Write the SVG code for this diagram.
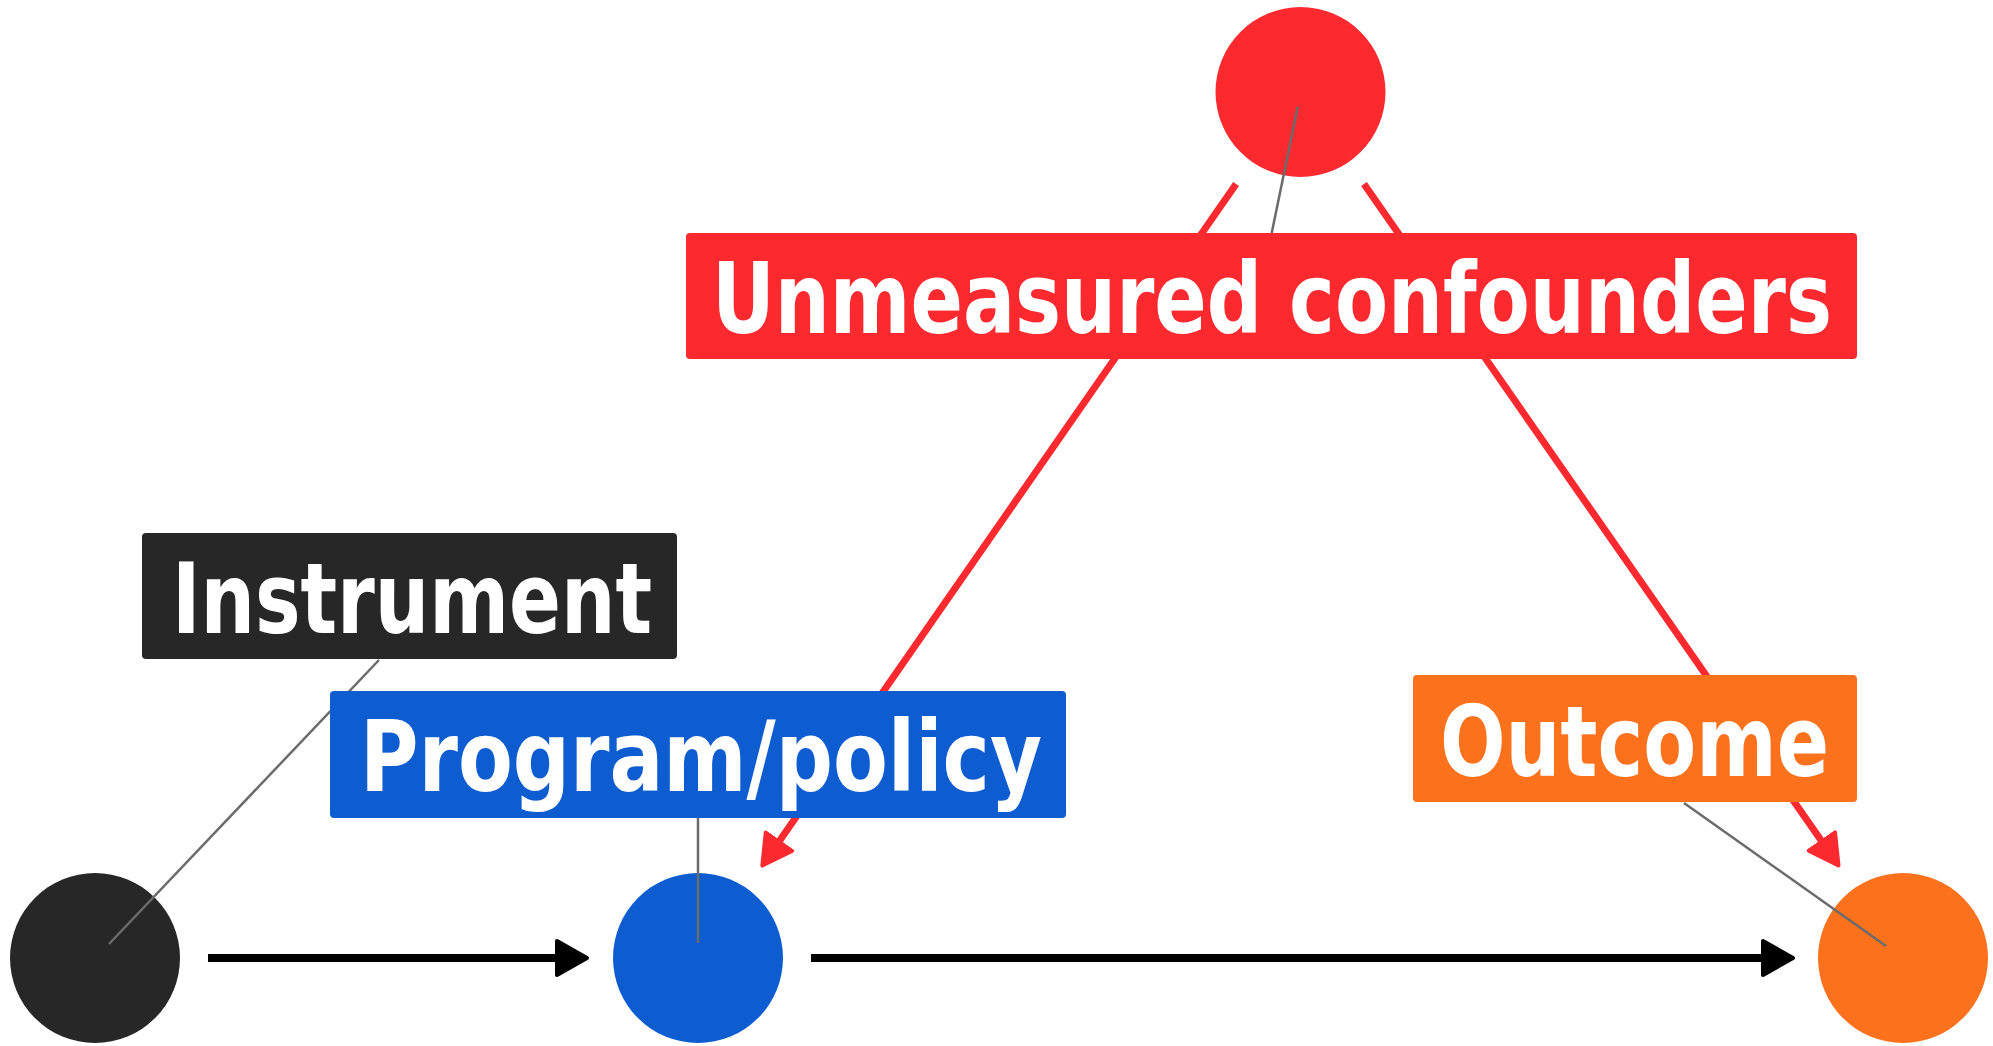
<svg xmlns="http://www.w3.org/2000/svg" width="1993" height="1046" viewBox="0 0 1993 1046">
  <style>
    .bg { fill: #ffffff; }
    .edge-black { stroke: #000000; stroke-width: 8; fill: none; }
    .edge-red { stroke: #fc2a2f; stroke-width: 7; fill: none; }
    .leader { stroke: #6b6b6b; stroke-width: 2.5; fill: none; }
    .label { font-family: "DejaVu Sans Condensed", "Open Sans", "Liberation Sans", sans-serif; font-weight: 700; font-size: 98px; fill: #ffffff; }
    .c-black { fill: #272727; }
    .c-blue { fill: #0d5dd1; }
    .c-orange { fill: #fc711c; }
    .c-red { fill: #fc2a2f; }
  </style>
  <defs>
    <marker id="arrow-black" markerUnits="userSpaceOnUse" markerWidth="40" markerHeight="44" refX="2" refY="20" orient="auto" viewBox="0 0 40 44">
      <path d="M2,3 L32,20 L2,37 Z" fill="#000000" stroke="#000000" stroke-width="4" stroke-linejoin="round"/>
    </marker>
    <marker id="arrow-red" markerUnits="userSpaceOnUse" markerWidth="40" markerHeight="44" refX="2" refY="20" orient="auto" viewBox="0 0 40 44">
      <path d="M2,4 L31,20 L2,36 Z" fill="#fc2a2f" stroke="#fc2a2f" stroke-width="4" stroke-linejoin="round"/>
    </marker>
  </defs>
  <rect class="bg" x="0" y="0" width="1993" height="1046"/>

  <g id="connectors">
    <line class="edge-black" x1="208" y1="958" x2="557" y2="958" marker-end="url(#arrow-black)"/>
    <line class="edge-black" x1="811" y1="958" x2="1763" y2="958" marker-end="url(#arrow-black)"/>
    <line class="edge-red" x1="1236.1" y1="184" x2="778.9" y2="841.7" marker-end="url(#arrow-red)"/>
    <line class="edge-red" x1="1364" y1="184" x2="1821.9" y2="841.6" marker-end="url(#arrow-red)"/>
  </g>

  <g id="node-instrument">
    <circle class="c-black" cx="95" cy="958" r="85"/>
    <line class="leader" x1="379" y1="660" x2="109" y2="944"/>
    <rect class="c-black" x="142" y="533" width="535" height="126" rx="4"/>
    <text class="label" x="172" y="633" textLength="480" lengthAdjust="spacingAndGlyphs">Instrument</text>
  </g>

  <g id="node-program">
    <circle class="c-blue" cx="698" cy="958" r="85"/>
    <line class="leader" x1="698" y1="818" x2="698" y2="943"/>
    <rect class="c-blue" x="330" y="691" width="736" height="127" rx="4"/>
    <text class="label" x="360" y="791" textLength="682" lengthAdjust="spacingAndGlyphs">Program/policy</text>
  </g>

  <g id="node-outcome">
    <circle class="c-orange" cx="1903" cy="958" r="85"/>
    <line class="leader" x1="1684" y1="803" x2="1886" y2="946"/>
    <rect class="c-orange" x="1413" y="675" width="444" height="127" rx="4"/>
    <text class="label" x="1440" y="776" textLength="389" lengthAdjust="spacingAndGlyphs">Outcome</text>
  </g>

  <g id="node-confounders">
    <circle class="c-red" cx="1300.5" cy="92" r="85"/>
    <line class="leader" x1="1297.7" y1="106.7" x2="1271.7" y2="233"/>
    <rect class="c-red" x="686" y="233" width="1171" height="126" rx="4"/>
    <text class="label" x="712" y="333" textLength="1120" lengthAdjust="spacingAndGlyphs">Unmeasured confounders</text>
  </g>
</svg>
